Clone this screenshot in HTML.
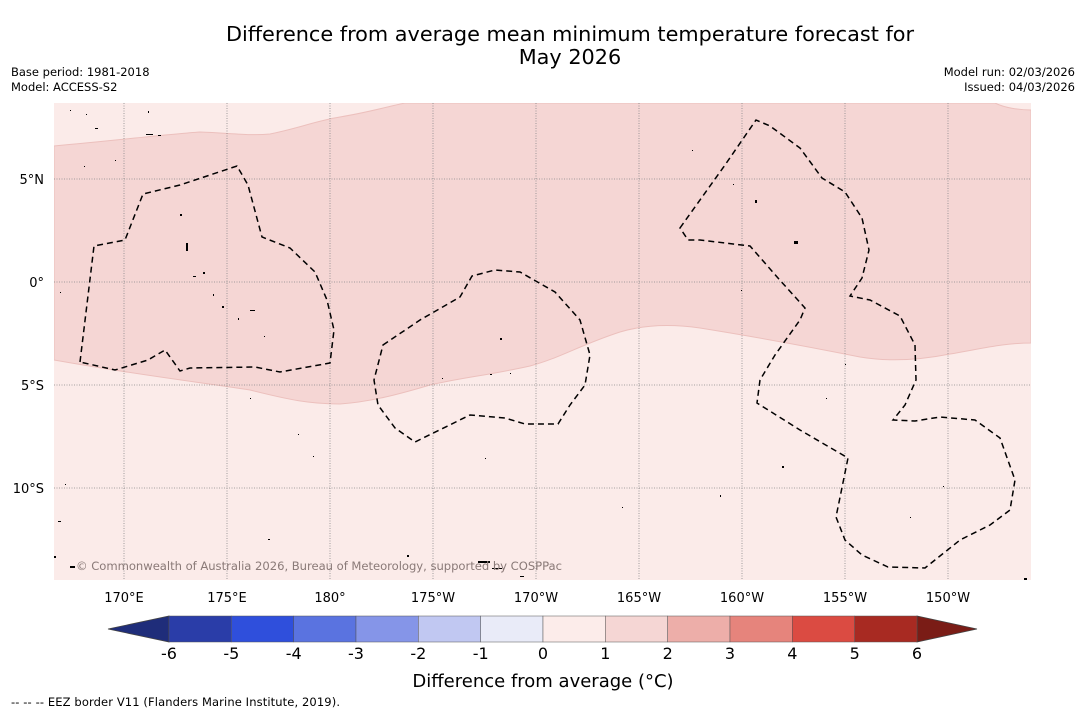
<!DOCTYPE html>
<html><head><meta charset="utf-8">
<style>
body{margin:0;background:#fff;width:1085px;height:713px;overflow:hidden;font-family:"DejaVu Sans","Liberation Sans",sans-serif;}
svg{display:block}
</style></head>
<body>
<svg width="1085" height="713" xmlns="http://www.w3.org/2000/svg">
<text x="570" y="41" font-size="20.8" text-anchor="middle" fill="#000">Difference from average mean minimum temperature forecast for</text>
<text x="570" y="64" font-size="20.8" text-anchor="middle" fill="#000">May 2026</text>
<text x="11" y="76" font-size="11.5">Base period: 1981-2018</text>
<text x="11" y="91" font-size="11.5">Model: ACCESS-S2</text>
<text x="1075" y="76" font-size="11.5" text-anchor="end">Model run: 02/03/2026</text>
<text x="1075" y="91" font-size="11.5" text-anchor="end">Issued: 04/03/2026</text>

<defs><clipPath id="mc"><rect x="54" y="103" width="977" height="477"/></clipPath></defs>
<g clip-path="url(#mc)">
<rect x="54" y="103" width="977" height="477" fill="#fbebe9"/>
<path fill="#f5d6d4" stroke="#ecc0bd" stroke-width="1"
d="M54,146 C120,140 170,134 200,132 C230,133 250,136 270,134 C300,128 315,121 340,117 C370,112 390,106 405,103 L995,103 C1005,108 1020,110 1031,110 L1031,343 C1005,343 985,348 950,354 C920,360 890,362 860,357 C800,345 750,336 700,328 C665,323 640,326 620,332 C580,345 560,358 530,366 C490,375 460,378 430,385 C400,394 370,402 340,404 C310,404 290,400 250,390 C200,382 150,377 54,360 Z"/>
<g stroke="#888" stroke-width="0.8" stroke-dasharray="1,1.5">
<line x1="124" y1="103" x2="124" y2="580"/><line x1="227" y1="103" x2="227" y2="580"/><line x1="330" y1="103" x2="330" y2="580"/>
<line x1="433" y1="103" x2="433" y2="580"/><line x1="536" y1="103" x2="536" y2="580"/><line x1="639" y1="103" x2="639" y2="580"/>
<line x1="742" y1="103" x2="742" y2="580"/><line x1="845" y1="103" x2="845" y2="580"/><line x1="948" y1="103" x2="948" y2="580"/>
<line x1="54" y1="179" x2="1031" y2="179"/><line x1="54" y1="282" x2="1031" y2="282"/><line x1="54" y1="385" x2="1031" y2="385"/><line x1="54" y1="488" x2="1031" y2="488"/>
</g>
<g fill="none" stroke="#000" stroke-width="1.5" stroke-dasharray="6,4">
<path d="M80,362 L94,246 L125,240 L143,194 L180,185 L237,166 L248,185 L262,237 L290,248 L315,272 L327,300 L334,330 L330,363 L280,372 L255,367 L190,368 L180,371 L165,350 L148,360 L115,370 Z"/>
<path d="M383,345 L420,320 L460,297 L472,276 L495,270 L520,272 L555,292 L580,320 L590,355 L585,385 L570,405 L558,424 L525,424 L505,418 L470,415 L415,442 L395,428 L378,405 L374,380 Z"/>
<path d="M680,228 L725,165 L756,120 L770,126 L800,148 L822,178 L845,192 L862,218 L869,250 L862,278 L850,296 L870,300 L900,316 L915,345 L916,380 L905,405 L893,420 L915,421 L940,417 L975,420 L1000,438 L1015,480 L1010,510 L990,525 L960,540 L925,568 L888,567 L862,555 L845,540 L836,517 L848,458 L800,430 L757,403 L760,380 L775,355 L800,320 L805,308 L778,278 L750,246 L700,240 L688,240 Z"/>
</g>
<g fill="#000">
<rect x="70" y="110" width="1" height="1"/><rect x="86" y="114" width="1" height="1"/><rect x="95" y="128" width="3" height="1"/><rect x="146" y="134" width="7" height="1"/><rect x="158" y="135" width="3" height="1"/><rect x="148" y="111" width="1" height="2"/>
<rect x="84" y="166" width="1" height="1"/><rect x="115" y="160" width="1" height="1"/><rect x="180" y="214" width="2" height="2"/><rect x="186" y="243" width="2" height="8"/><rect x="193" y="276" width="3" height="1"/><rect x="203" y="272" width="2" height="2"/>
<rect x="213" y="294" width="1" height="2"/><rect x="222" y="306" width="2" height="2"/><rect x="238" y="318" width="1" height="2"/><rect x="250" y="310" width="5" height="1"/><rect x="264" y="336" width="1" height="1"/><rect x="60" y="292" width="1" height="1"/>
<rect x="500" y="338" width="2" height="2"/><rect x="442" y="378" width="1" height="1"/><rect x="490" y="374" width="2" height="1"/><rect x="510" y="373" width="1" height="1"/><rect x="755" y="200" width="2" height="3"/><rect x="794" y="241" width="4" height="3"/>
<rect x="692" y="150" width="1" height="1"/><rect x="733" y="184" width="1" height="1"/><rect x="741" y="290" width="1" height="1"/><rect x="845" y="364" width="1" height="1"/><rect x="826" y="398" width="1" height="1"/><rect x="782" y="466" width="2" height="2"/>
<rect x="720" y="495" width="1" height="2"/><rect x="622" y="507" width="1" height="1"/><rect x="943" y="486" width="1" height="1"/><rect x="910" y="517" width="1" height="1"/><rect x="478" y="561" width="12" height="2"/><rect x="492" y="568" width="10" height="1"/>
<rect x="58" y="521" width="3" height="1"/><rect x="54" y="556" width="2" height="2"/><rect x="70" y="566" width="5" height="2"/><rect x="268" y="539" width="2" height="1"/><rect x="407" y="555" width="2" height="2"/><rect x="520" y="576" width="4" height="1"/>
<rect x="1024" y="578" width="3" height="2"/><rect x="65" y="484" width="1" height="1"/><rect x="313" y="456" width="1" height="1"/><rect x="250" y="398" width="1" height="1"/><rect x="298" y="434" width="1" height="1"/><rect x="485" y="458" width="1" height="1"/>
</g>
<text x="76" y="570" font-size="11.6" fill="#8a7a78" textLength="486">© Commonwealth of Australia 2026, Bureau of Meteorology, supported by COSPPac</text>
</g>
<g font-size="13" fill="#000">
<text x="124" y="602" text-anchor="middle">170°E</text><text x="227" y="602" text-anchor="middle">175°E</text><text x="330" y="602" text-anchor="middle">180°</text>
<text x="433" y="602" text-anchor="middle">175°W</text><text x="536" y="602" text-anchor="middle">170°W</text><text x="639" y="602" text-anchor="middle">165°W</text>
<text x="742" y="602" text-anchor="middle">160°W</text><text x="845" y="602" text-anchor="middle">155°W</text><text x="948" y="602" text-anchor="middle">150°W</text>
<text x="44" y="184" text-anchor="end">5°N</text><text x="44" y="287" text-anchor="end">0°</text><text x="44" y="390" text-anchor="end">5°S</text><text x="44" y="493" text-anchor="end">10°S</text>
</g>
<g id="cbar"></g>
<text x="543" y="687" font-size="18" text-anchor="middle">Difference from average (°C)</text>
<text x="11" y="706" font-size="11.5" textLength="329">--  --  -- EEZ border V11 (Flanders Marine Institute, 2019).</text>
</svg>
<script>
const cbTicks=[-6,-5,-4,-3,-2,-1,0,1,2,3,4,5,6];
const cbColors=["#2a3da8","#2f4fdc","#5a73e0","#8595e8","#c1c8f2","#e9ebf8","#fcecea","#f5d6d4","#edaea9","#e6847c","#db4b42","#a82a22"];
const NS="http://www.w3.org/2000/svg";
const g=document.getElementById('cbar');
const x0=169,x1=917,y0=616,h=26;
const sx=v=>x0+(v+6)/12*(x1-x0);
function mk(t,a){const e=document.createElementNS(NS,t);for(const k in a)e.setAttribute(k,a[k]);g.appendChild(e);return e;}
let p=mk('polygon',{points:`${x0},${y0} ${x0},${y0+h} 108,${y0+h/2}`,fill:'#1f2d7a',stroke:'#444','stroke-width':0.8});


p=mk('polygon',{points:`${x1},${y0} ${x1},${y0+h} 977,${y0+h/2}`,fill:'#7a1c16',stroke:'#444','stroke-width':0.8});


cbColors.forEach((c,i)=>{
 const r=mk('rect',{x:sx(cbTicks[i]),y:y0,width:sx(cbTicks[i+1])-sx(cbTicks[i]),height:h,fill:c,stroke:'#555','stroke-width':0.5});
 
 
});
cbTicks.forEach(v=>{
 const t=mk('text',{x:sx(v),y:y0+h+17,'font-size':16,'text-anchor':'middle'});
 t.textContent=v;
 
 
});
</script>
</body></html>
